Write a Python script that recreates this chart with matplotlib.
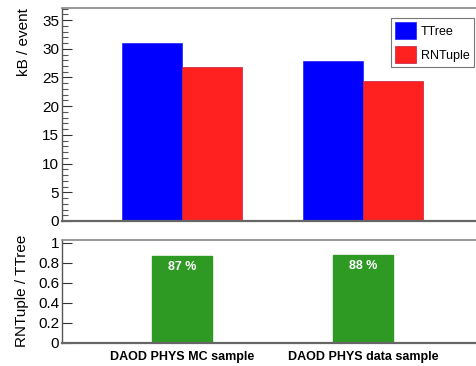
import matplotlib
matplotlib.use("Agg")
import matplotlib.pyplot as plt
import numpy as np
from matplotlib.ticker import MultipleLocator

categories = ["DAOD PHYS MC sample", "DAOD PHYS data sample"]
ttree = [31.0, 27.9]
rntuple = [26.8, 24.4]
ratio = [0.87, 0.88]
ratio_labels = ["87 %", "88 %"]

plt.rcParams['font.family'] = ['Liberation Sans', 'DejaVu Sans']

W, H = 477, 366
fig = plt.figure(figsize=(W/100, H/100), dpi=100)

def ax_rect(l, t, r, b):
    return [l/W, 1 - b/H, (r-l)/W, (b-t)/H]

ax1 = fig.add_axes(ax_rect(62, 8, 478, 221))
ax2 = fig.add_axes(ax_rect(62, 240, 478, 343))

x = np.arange(len(categories))
bw = 0.331
ax1.bar(x - bw/2, ttree, width=bw, color='#0000ff', edgecolor='#2020ff', linewidth=0.5, label='TTree')
ax1.bar(x + bw/2, rntuple, width=bw, color='#ff2020', edgecolor='#c02040', linewidth=0.5, label='RNTuple')
ax1.set_xlim(-0.663, 1.635)
ax1.set_ylim(0, 37.1)
ax1.yaxis.set_major_locator(MultipleLocator(5))
ax1.yaxis.set_minor_locator(MultipleLocator(1))
ax1.set_xticks([])
ax1.set_ylabel("kB / event", fontsize=11, loc='top')
ax1.yaxis.set_label_coords(-0.075, 1.0)

ax2.bar(x, ratio, width=bw, color='#2e9a24', edgecolor='#2e9a24')
for xi, v, lab in zip(x, ratio, ratio_labels):
    ax2.text(xi, v - 0.05, lab, color='white', fontweight='bold', fontsize=9,
             ha='center', va='top')
ax2.set_xlim(-0.663, 1.635)
ax2.set_ylim(0, 1.03)
ax2.yaxis.set_major_locator(MultipleLocator(0.2))
ax2.yaxis.set_major_formatter(plt.FuncFormatter(lambda v, p: "0" if abs(v) < 1e-9 else ("1" if abs(v-1) < 1e-9 else f"{v:.1f}")))
ax2.set_xticks(x)
ax2.set_xticklabels(categories, fontweight='bold', fontsize=9)
ax2.tick_params(axis='x', length=0, pad=6)
ax2.set_ylabel("RNTuple / TTree", fontsize=11, loc='top')
ax2.yaxis.set_label_coords(-0.08, 1.05)

for ax in (ax1, ax2):
    ax.spines['right'].set_visible(False)
    ax.spines['top'].set_color('#888888')
    ax.spines['left'].set_color('#555555')
    ax.spines['bottom'].set_color('#666666')
    ax.spines['bottom'].set_linewidth(1.6)
    ax.spines['top'].set_linewidth(1.2)
    ax.spines['left'].set_linewidth(1.0)
    ax.tick_params(axis='y', direction='in', labelsize=11, length=7, width=0.8, colors='#333333', labelcolor='black', pad=2)
    ax.tick_params(axis='y', which='minor', direction='in', length=4, width=0.8, colors='#555555')

leg = ax1.legend(loc='upper right', bbox_to_anchor=((474-62)/(478-62), (221-18)/(221-8)),
                 fontsize=9, frameon=True, fancybox=False, edgecolor='#555555',
                 handlelength=1.7, handleheight=1.7, borderpad=0.35, labelspacing=0.55,
                 handletextpad=0.35, borderaxespad=0)
leg.get_frame().set_linewidth(0.8)

fig.savefig("out.png", dpi=100)
